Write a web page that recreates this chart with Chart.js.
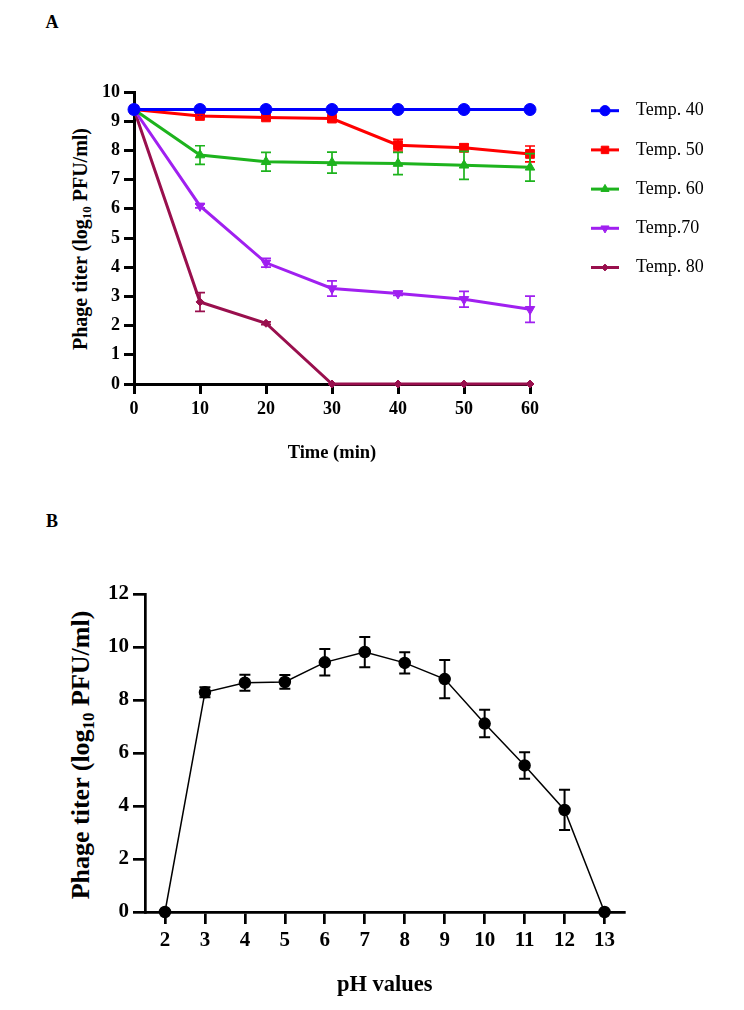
<!DOCTYPE html>
<html>
<head>
<meta charset="utf-8">
<script src="https://cdn.jsdelivr.net/npm/chart.js@4.4.1/dist/chart.umd.min.js"></script>
<style>
  body { margin: 0; background: #fff; }
  #page { position: relative; width: 744px; height: 1010px; font-family: "Liberation Serif", "Times New Roman", serif; color: #000; }
  canvas { position: absolute; left: 0; }
  .panel { position: absolute; font-weight: bold; font-size: 18px; transform: translate(-50%, -50%); }
  .ytitle { position: absolute; font-weight: bold; white-space: nowrap; line-height: 1; transform: translate(-50%, -50%) rotate(-90deg); }
  .ytitle sub { font-size: 0.65em; vertical-align: -0.3em; line-height: 0; }
</style>
</head>
<body>
<div id="page">
  <div class="panel" style="left:52px;top:22px;">A</div>
  <div class="panel" style="left:52px;top:521px;">B</div>
  <div class="ytitle" style="left:80px;top:239px;font-size:20px;">Phage titer (log<sub>10</sub> PFU/ml)</div>
  <div class="ytitle" style="left:81px;top:755px;font-size:26px;">Phage titer (log<sub>10</sub> PFU/ml)</div>
  <canvas id="chartA" width="744" height="490" style="top:0;"></canvas>
  <canvas id="chartB" width="744" height="520" style="top:490px;"></canvas>
</div>
<script>
/* ---------- data ---------- */
// panel A : thermal stability
const times = [0, 10, 20, 30, 40, 50, 60];
const tempLabels = ['Temp. 40', 'Temp. 50', 'Temp. 60', 'Temp.70', 'Temp. 80'];
const temp40 = [9.4, 9.4, 9.4, 9.4, 9.4, 9.4, 9.4];
const temp50 = [9.4, 9.18, 9.13, 9.09, 8.18, 8.09, 7.88];
const temp60 = [9.4, 7.84, 7.61, 7.58, 7.55, 7.49, 7.42];
const temp70 = [9.4, 6.1, 4.15, 3.27, 3.1, 2.9, 2.56];
const temp80 = [9.4, 2.81, 2.08, 0, 0, 0, 0];
const err40 = [0, 0, 0, 0, 0, 0, 0];
const err50 = [0, 0.05, 0.05, 0.06, 0.2, 0.12, 0.27];
const err60 = [0, 0.32, 0.32, 0.36, 0.38, 0.48, 0.47];
const err70 = [0, 0.07, 0.15, 0.26, 0.07, 0.27, 0.45];
const err80 = [0, 0.32, 0.05, 0, 0, 0, 0];
const yTicksA = [0, 1, 2, 3, 4, 5, 6, 7, 8, 9, 10];

// panel B : pH stability
const phValues = [2, 3, 4, 5, 6, 7, 8, 9, 10, 11, 12, 13];
const phTiter = [0, 8.29, 8.65, 8.68, 9.42, 9.81, 9.4, 8.79, 7.11, 5.53, 3.85, 0];
const phErr = [0, 0.19, 0.3, 0.26, 0.5, 0.57, 0.4, 0.72, 0.52, 0.5, 0.76, 0];
const yTicksB = [0, 2, 4, 6, 8, 10, 12];

/* ---------- styles ---------- */
const seriesStyle = [
  { color: '#0000ff', shape: 'circle', r: 6, rot: 0 },
  { color: '#ff0000', shape: 'rect', r: 6.2, rot: 0 },
  { color: '#1db31d', shape: 'triangle', r: 5.5, rot: 0 },
  { color: '#a020f0', shape: 'triangle', r: 5.5, rot: 180 },
  { color: '#990f4d', shape: 'rectRot', r: 4, rot: 0 }
];

Chart.defaults.font.family = '"Liberation Serif", "Times New Roman", serif';
Chart.defaults.color = '#000';

// vertical error bars with caps, drawn through the y scale
const errorBars = {
  id: 'errorBars',
  afterDatasetsDraw(chart, args, o) {
    const ctx = chart.ctx, ys = chart.scales.y;
    chart.data.datasets.forEach((ds, i) => {
      if (!ds.errors) return;
      const meta = chart.getDatasetMeta(i);
      ctx.save();
      ctx.strokeStyle = ds.borderColor;
      ctx.lineWidth = o.width;
      meta.data.forEach((pt, j) => {
        const e = ds.errors[j];
        if (!e) return;
        const v = ds.data[j].y;
        const top = ys.getPixelForValue(v + e), bot = ys.getPixelForValue(v - e);
        ctx.beginPath();
        ctx.moveTo(pt.x, top); ctx.lineTo(pt.x, bot);
        ctx.moveTo(pt.x - o.cap, top); ctx.lineTo(pt.x + o.cap, top);
        ctx.moveTo(pt.x - o.cap, bot); ctx.lineTo(pt.x + o.cap, bot);
        ctx.stroke();
      });
      ctx.restore();
    });
  }
};

// legend entries drawn as "line + marker + label"
const lineLegend = {
  id: 'lineLegend',
  afterDraw(chart, args, o) {
    if (!o.show) return;
    const ctx = chart.ctx;
    chart.data.datasets.forEach((ds, i) => {
      const y = o.top + i * o.gap;
      ctx.save();
      ctx.strokeStyle = ds.borderColor;
      ctx.lineWidth = ds.borderWidth;
      ctx.beginPath();
      ctx.moveTo(o.left, y);
      ctx.lineTo(o.left + o.lineLen, y);
      ctx.stroke();
      ctx.fillStyle = ds.pointBackgroundColor;
      ctx.strokeStyle = ds.pointBorderColor;
      ctx.lineWidth = 1;
      Chart.helpers.drawPoint(ctx, {
        pointStyle: ds.pointStyle, rotation: ds.pointRotation, radius: ds.pointRadius * 0.85, borderWidth: 1
      }, o.left + o.lineLen / 2, y);
      ctx.fillStyle = '#000';
      ctx.font = o.font;
      ctx.textBaseline = 'middle';
      ctx.fillText(ds.label, o.textX, y);
      ctx.restore();
    });
  }
};

function axisStyle(width, tickLen, fontSize, pad) {
  return {
    border: { color: '#000', width: width },
    grid: { drawOnChartArea: false, color: '#000', lineWidth: width, tickLength: tickLen },
    ticks: { font: { size: fontSize, weight: 'bold' }, color: '#000', padding: pad }
  };
}

/* ---------- panel A ---------- */
const tempValues = [temp40, temp50, temp60, temp70, temp80];
const tempErrors = [err40, err50, err60, err70, err80];

new Chart(document.getElementById('chartA'), {
  type: 'line',
  data: {
    datasets: tempLabels.map((lab, i) => ({
      label: lab,
      data: times.map((t, k) => ({ x: t, y: tempValues[i][k] })),
      errors: tempErrors[i],
      borderColor: seriesStyle[i].color,
      backgroundColor: seriesStyle[i].color,
      pointBackgroundColor: seriesStyle[i].color,
      pointBorderColor: seriesStyle[i].color,
      pointStyle: seriesStyle[i].shape,
      pointRotation: seriesStyle[i].rot,
      pointRadius: seriesStyle[i].r,
      pointBorderWidth: 1,
      borderWidth: 3,
      tension: 0,
      clip: false
    }))
  },
  options: {
    responsive: false,
    animation: false,
    layout: { padding: { left: 0, right: 214, top: 92, bottom: 0 } },
    plugins: {
      legend: { display: false },
      tooltip: { enabled: false },
      errorBars: { width: 1.7, cap: 5 },
      lineLegend: { show: true, left: 591, lineLen: 28, textX: 636, top: 110.7, gap: 39.2, font: '18px "Liberation Serif", serif' }
    },
    scales: {
      x: Object.assign(axisStyle(3, 10, 18, 5), {
        type: 'linear', min: 0, max: 60,
        afterBuildTicks: s => { s.ticks = times.map(v => ({ value: v })); },
        afterFit: s => { s.height = 106; },
        title: { display: true, text: 'Time (min)', font: { size: 18.5, weight: 'bold' }, color: '#000', padding: { top: 0, bottom: 26 } }
      }),
      y: Object.assign(axisStyle(3, 10, 18, 4), {
        type: 'linear', min: 0, max: 10,
        afterBuildTicks: s => { s.ticks = yTicksA.map(v => ({ value: v })); },
        afterFit: s => { s.width = 134; }
      })
    }
  },
  plugins: [errorBars, lineLegend]
});

/* ---------- panel B ---------- */
new Chart(document.getElementById('chartB'), {
  type: 'line',
  data: {
    datasets: [{
      label: 'pH',
      data: phValues.map((p, k) => ({ x: p, y: phTiter[k] })),
      errors: phErr,
      borderColor: '#000',
      pointBackgroundColor: '#000',
      pointBorderColor: '#000',
      pointStyle: 'circle',
      pointRadius: 5.5,
      borderWidth: 1.5,
      tension: 0,
      clip: false
    }]
  },
  options: {
    responsive: false,
    animation: false,
    layout: { padding: { left: 0, right: 119.5, top: 104, bottom: 0 } },
    plugins: {
      legend: { display: false },
      tooltip: { enabled: false },
      errorBars: { width: 2, cap: 5.5 },
      lineLegend: { show: false }
    },
    scales: {
      x: Object.assign(axisStyle(2.7, 12, 21, 4), {
        type: 'linear', min: 1.5, max: 13.5,
        afterBuildTicks: s => { s.ticks = phValues.map(v => ({ value: v })); },
        afterFit: s => { s.height = 98; },
        title: { display: true, text: 'pH values', font: { size: 22.5, weight: 'bold' }, color: '#000', padding: { top: 0, bottom: 11 } }
      }),
      y: Object.assign(axisStyle(2.7, 12, 21, 4), {
        type: 'linear', min: 0, max: 12,
        afterBuildTicks: s => { s.ticks = yTicksB.map(v => ({ value: v })); },
        afterFit: s => { s.width = 145; }
      })
    }
  },
  plugins: [errorBars, lineLegend]
});
</script>
</body>
</html>
